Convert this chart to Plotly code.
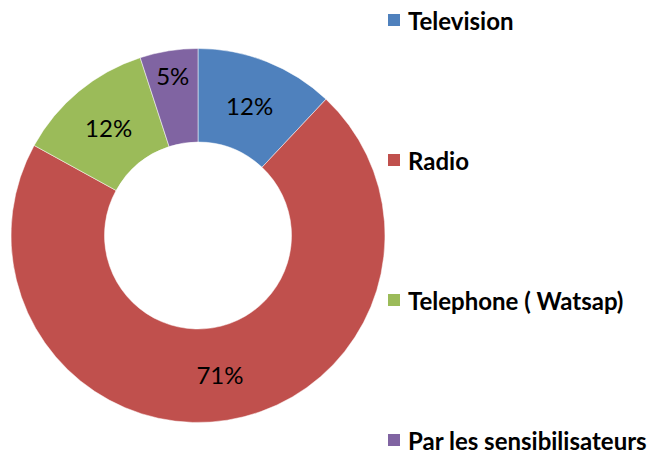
import plotly.graph_objects as go

categories = ["Television", "Radio", "Telephone ( Watsap)", "Par les sensibilisateurs"]
values = [12, 71, 12, 5]
colors = ["#4F81BD", "#C0504D", "#9BBB59", "#8064A2"]

W, H = 660, 457
OFF = 8  # page body margin compensation
fig = go.Figure()
fig.add_trace(go.Pie(
    labels=categories, values=values, sort=False, direction="clockwise", rotation=0,
    hole=0.5, marker=dict(colors=colors, line=dict(color="white", width=0.5)),
    texttemplate="%{value}%", textposition="inside", insidetextorientation="horizontal",
    textfont=dict(family="Lato", size=24, color="black"),
    showlegend=False, hoverinfo="label+percent",
    domain=dict(x=[(11 - OFF) / W, (385 - OFF) / W],
                y=[(457 - 423 + OFF) / H, (457 - 48 + OFF) / H]),
))

# Legend drawn as shapes + annotations (wide vertical spacing as in the reference)
leg_x0, leg_sq, leg_text_x = 388 - OFF, 12, 406 - OFF
leg_y0, leg_step = 20 - OFF, 140
shapes, annotations = [], []
for i, (c, col) in enumerate(zip(categories, colors)):
    cy = leg_y0 + i * leg_step
    shapes.append(dict(type="rect", xref="paper", yref="paper",
                       x0=leg_x0 / W, x1=(leg_x0 + leg_sq) / W,
                       y0=1 - (cy + leg_sq / 2) / H, y1=1 - (cy - leg_sq / 2) / H,
                       fillcolor=col, line=dict(width=0)))
    annotations.append(dict(xref="paper", yref="paper", x=leg_text_x / W, y=1 - cy / H,
                            xanchor="left", yanchor="middle", showarrow=False, text=c,
                            font=dict(family="Lato", size=24, color="black", weight="bold")))

fig.update_layout(
    width=W, height=H, margin=dict(l=0, r=0, t=0, b=0),
    paper_bgcolor="white", plot_bgcolor="white", showlegend=False,
    shapes=shapes, annotations=annotations,
)
fig.write_html("out.html")
